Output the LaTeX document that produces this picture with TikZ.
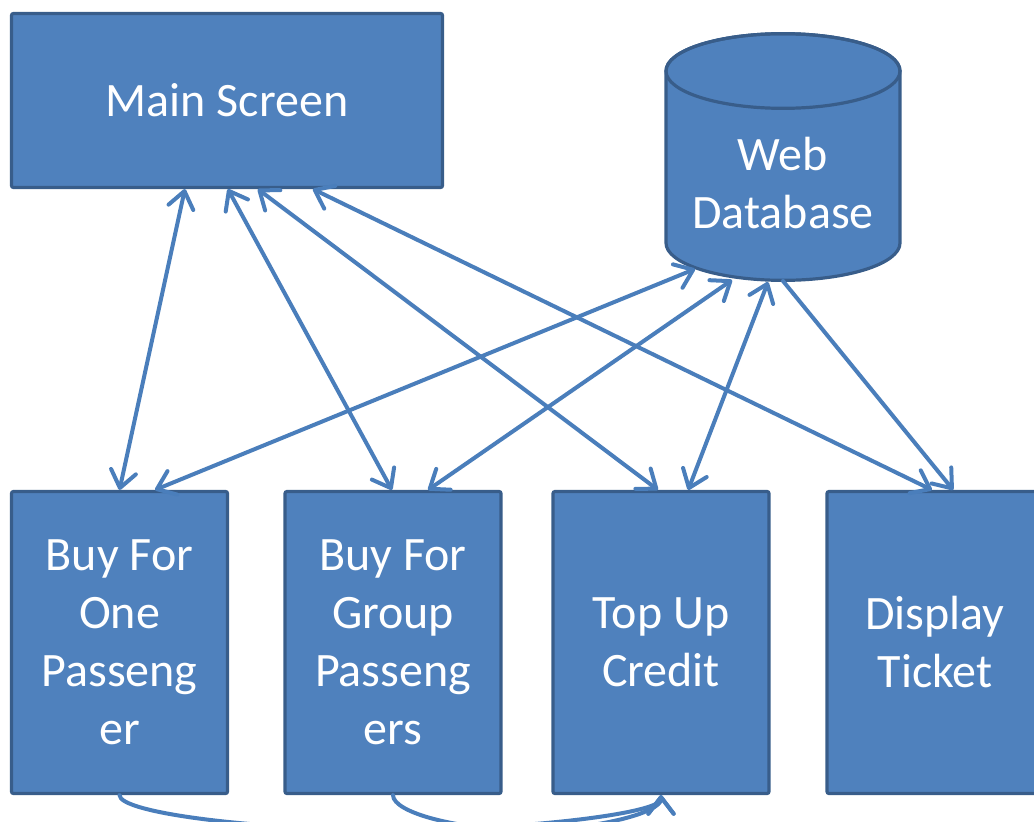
\documentclass[tikz,border=0pt]{standalone}
\usepackage{fontspec}
\setmainfont{Carlito}
\usetikzlibrary{arrows.meta,calc}
\definecolor{boxfill}{HTML}{4F81BD}
\definecolor{boxline}{HTML}{385D8A}
\definecolor{arrowc}{HTML}{4A7EBB}
\tikzset{
  box/.style={draw=boxline, fill=boxfill, line width=2.4pt, rounded corners=1.5pt,
    text=white, align=center, font=\fontsize{36}{43.5}\selectfont, inner sep=0pt},
  bottombox/.style={box, minimum width=162pt, minimum height=226.5pt},
  conn/.style={draw=arrowc, line width=3pt, line cap=round,
    arrows={-Straight Barb[length=12.5pt,width=19pt,round]}},
  bconn/.style={conn, arrows={Straight Barb[length=12.5pt,width=19pt,round]-Straight Barb[length=12.5pt,width=19pt,round]}},
}
\begin{document}
\begin{tikzpicture}[x=0.75pt,y=-0.75pt]
\useasboundingbox (0,0) rectangle (1034,821);
\clip (0,0) rectangle (1034,821);
% boxes
\node[box, minimum width=323.25pt, minimum height=130.5pt] (main) at (227,100.5) {Main Screen};
\node[bottombox] (box1) at (119.5,642.5) {Buy For\\One\\Passeng\\er};
\node[bottombox] (box2) at (393,642.5) {Buy For\\Group\\Passeng\\ers};
\node[bottombox] (box3) at (661,642.5) {Top Up\\Credit};
\node[bottombox] (box4) at (935,642.5) {Display\\Ticket};
% database cylinder
\path[fill=boxfill, draw=boxline, line width=2.4pt]
  (666,71) -- (666,243) arc[start angle=180,end angle=360,x radius=87.75pt,y radius=28pt]
  -- (900,71) arc[start angle=0,end angle=180,x radius=87.75pt,y radius=28pt] -- cycle;
\draw[boxline, line width=2.4pt] (783,71) ellipse[x radius=87.75pt,y radius=28pt];
\node[text=white, align=center, font=\fontsize{36}{43.5}\selectfont, inner sep=0pt] (db) at (783,183.5) {Web\\Database};
\coordinate (db1) at (695,269);
\coordinate (db2) at (732,280);
\coordinate (db3) at (768,282);
\coordinate (db4) at (783,281);
% connectors from main screen
\draw[bconn] ($(main.south west)!0.403!(main.south east)$) -- (box1.north);
\draw[bconn] ($(main.south west)!0.502!(main.south east)$) -- ($(box2.north west)!0.495!(box2.north east)$);
\draw[bconn] ($(main.south west)!0.571!(main.south east)$) -- ($(box3.north west)!0.486!(box3.north east)$);
\draw[bconn] ($(main.south west)!0.698!(main.south east)$) -- ($(box4.north west)!0.486!(box4.north east)$);
% connectors from database
\draw[bconn] (db1) -- ($(box1.north west)!0.662!(box1.north east)$);
\draw[bconn] (db2) -- ($(box2.north west)!0.66!(box2.north east)$);
\draw[bconn] (db3) -- ($(box3.north west)!0.624!(box3.north east)$);
\draw[conn] (db4) -- ($(box4.north west)!0.583!(box4.north east)$);
% curved connectors at the bottom
\draw[conn] (box1.south) .. controls (119.5,813) and (256,830) .. (392,830)
  .. controls (527,830) and (661,813) .. (box3.south);
\draw[conn] (box2.south) .. controls (393,813) and (460,830) .. (527,830)
  .. controls (594,830) and (661,813) .. (box3.south);
\end{tikzpicture}
\end{document}
